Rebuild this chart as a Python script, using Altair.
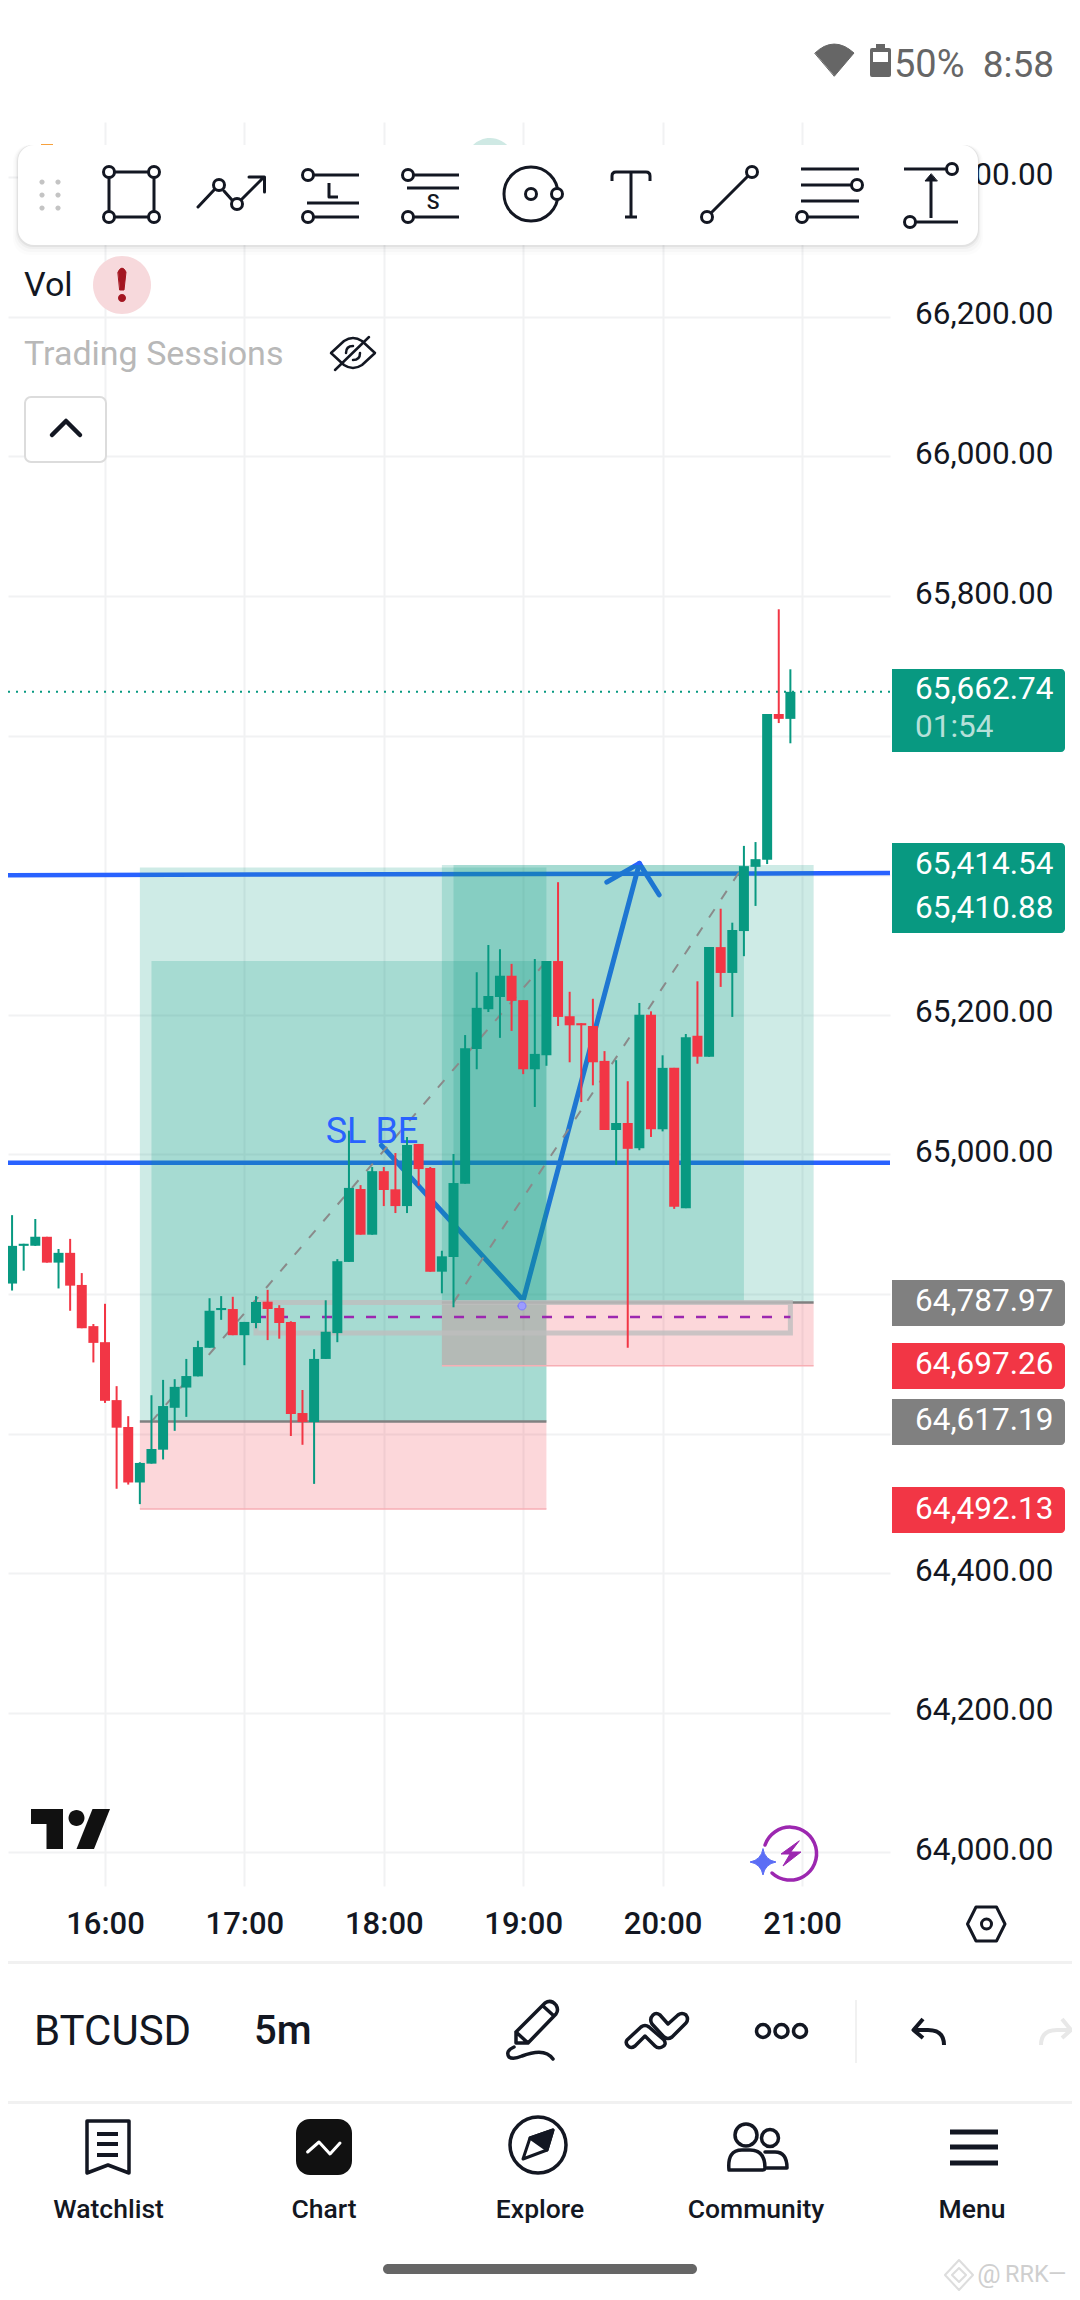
import altair as alt
import pandas as pd

# ---------- chart data ----------
candle_open = [64816, 64815, 64869, 64869, 64882, 64845, 64859, 64813, 64754, 64731,
               64648, 64609.5, 64530, 64557, 64577, 64637, 64666, 64682, 64723, 64777,
               64778.5, 64741, 64758.5, 64789, 64780, 64760, 64629.5, 64616.6, 64707, 64744,
               64846, 64950.5, 64885, 64976, 64950, 64926, 65015, 64980.5, 64832, 64853,
               64958, 65151, 65208, 65225.5, 65256, 65221, 65122, 65142, 65277, 65198,
               65188, 65184, 65134, 65035, 65045, 65009, 65200, 65036, 65124, 64923,
               65170, 65140, 65297, 65260, 65320, 65412, 65422, 65631, 65624]
candle_close = [64814, 64869, 64872, 64882, 64845, 64859, 64812, 64751, 64730, 64647,
                64608.5, 64530, 64558, 64578, 64639.5, 64667, 64682.5, 64724, 64776, 64780,
                64741, 64760, 64788.6, 64778.5, 64758.5, 64628, 64616.6, 64707, 64746, 64847,
                64952, 64885, 64976, 64949, 64926, 65013.5, 64979, 64832, 64854, 64959,
                65152, 65210, 65227, 65256, 65220, 65122, 65144, 65277, 65197, 65185,
                65185, 65132, 65035, 65045, 65008, 65200, 65036, 65124, 64925, 65168,
                65140, 65297, 65260, 65321.5, 65413, 65423, 65631, 65624, 65662.74]
candle_high = [64892, 64913, 64872, 64907.5, 64882, 64864.5, 64879, 64830, 64757, 64786,
               64668, 64625, 64559, 64655, 64677, 64678, 64707, 64733, 64794, 64797,
               64796, 64760, 64797, 64806, 64784, 64761, 64662.5, 64721, 64791, 64850,
               65034, 64956, 64982, 64982, 65002, 65025, 65015, 64982, 64862, 65000.6,
               65171, 65261, 65300, 65294, 65273, 65221, 65280, 65277, 65390, 65233,
               65188, 65223, 65148, 65135, 65105, 65217, 65205, 65142, 65124, 65172.5,
               65248, 65297, 65352, 65332, 65442, 65447.5, 65631, 65781, 65695]
candle_low = [64796, 64805, 64833.5, 64869, 64845, 64808, 64776, 64751, 64702, 64644,
              64521, 64527, 64499, 64557, 64563, 64604, 64624, 64682, 64723, 64763,
              64741, 64698, 64751, 64734, 64736, 64596.6, 64584, 64528, 64707, 64731,
              64846, 64885, 64885, 64926, 64916, 64916, 64955, 64832, 64801, 64781,
              64958, 65122, 65204, 65167, 65177, 65115, 65068, 65127, 65184, 65132,
              65075, 65099, 65035, 64985, 64723, 65006, 65025, 65033, 64922, 64923,
              65130, 65140, 65240, 65197, 65284, 65356, 65416, 65618, 65589]
first_minute = 915   # minutes after midnight of the first visible 5m candle

hour_ticks = [960, 1020, 1080, 1140, 1200, 1260]
price_ticks = [64000, 64200, 64400, 64600, 64800, 65000, 65200, 65400, 65600, 65800, 66000, 66200, 66400]

# long-position tools: start, end, low price, high price
green_t0 = [975, 980, 1105, 1110]
green_t1 = [1150, 1150, 1265, 1235]
green_p0 = [64617.19, 64617.19, 64787.97, 64787.97]
green_p1 = [65410.88, 65277, 65414.54, 65414.54]
red_t0 = [975, 1105]
red_t1 = [1150, 1265]
red_p0 = [64492.13, 64697.26]
red_p1 = [64617.19, 64787.97]

level_t = [915, 1297.88]
upper_level = [65400, 65403]
lower_level = [64988, 64988]
zigzag_t = [1079, 1140, 1190]
zigzag_p = [65013, 64791, 65417]
head_t = [1176, 1190, 1198.5]
head_p = [65390, 65417, 65372]
diag1_t = [980, 1150]
diag1_p = [64617.19, 65277]
diag2_t = [1110, 1235]
diag2_p = [64787.97, 65414.54]
box_t = [1025, 1255]
box_p = [64744, 64788]
mid_price = 64767
last_price = 65662.74

# price tags: box top, box bottom (page pixels), colour
tag_top = [669, 843, 1280, 1343, 1399, 1487]
tag_bottom = [752, 933, 1326, 1389, 1445, 1533]
tag_colour = ["#089981", "#089981", "#808080", "#F23645", "#808080", "#F23645"]
tag_text = ["65,662.74", "01:54", "65,414.54", "65,410.88", "64,787.97", "64,697.26", "64,617.19", "64,492.13"]
tag_text_y = [690, 727.5, 864.5, 908.5, 1302, 1365, 1421, 1510]

GREEN, RED, BLUE, INK = "#089981", "#F23645", "#2962ff", "#131722"
ONE = pd.DataFrame({"a": [0]})
FONT = "Roboto"

T_DOMAIN = [918.25, 1297.88]
P_DOMAIN = [63951.9, 66479.1]
X_S = alt.Scale(domain=T_DOMAIN, zero=False, nice=False, padding=0)
Y_S = alt.Scale(domain=P_DOMAIN, zero=False, nice=False, padding=0)

AX_X = alt.Axis(values=hour_ticks, labelExpr="floor(datum.value/60)+':00'", grid=True, gridColor="#f1f2f3",
                gridWidth=2, domain=False, ticks=False, tickSize=0, labelFont=FONT, labelFontSize=31,
                labelFontWeight=500, labelColor=INK, labelPadding=38, labelBaseline="middle",
                labelOverlap=False, labelFlush=False, labelBound=False, title=None)
AX_Y = alt.Axis(orient="right", values=price_ticks, format=",.2f", grid=True, gridColor="#f1f2f3",
                labelExpr="datum.value==65600||datum.value==65400||datum.value==64800||datum.value==64600?'':datum.label",
                gridWidth=2, domain=False, ticks=False, tickSize=0, labelFont=FONT, labelFontSize=31.5,
                labelColor=INK, labelAlign="right", labelBaseline="middle", labelPadding=163, labelOffset=-2,
                labelOverlap=False, labelFlush=False, labelBound=False, title=None)


def X(f):
    return alt.X(f, type="quantitative", scale=X_S, axis=AX_X)


def Y(f):
    return alt.Y(f, type="quantitative", scale=Y_S, axis=AX_Y)


def series(t, p):
    return pd.DataFrame({"t": t, "p": p})


def path(d, stroke=INK, fill="transparent", sw=3.0, opacity=1.0, cap="round"):
    kw = dict(shape=d, size=4, filled=True, fill=fill, stroke=stroke, strokeWidth=sw,
              opacity=opacity, strokeCap=cap, strokeJoin="round")
    return alt.Chart(ONE).mark_point(**kw).encode(x=alt.value(-8), y=alt.value(-122))


def circ(cx, cy, r):
    return f"M{cx-r} {cy}A{r} {r} 0 1 0 {cx+r} {cy}A{r} {r} 0 1 0 {cx-r} {cy}Z"


def text(s, x, y, size, color=INK, align="left", weight=400):
    return alt.Chart(ONE).mark_text(text=s, font=FONT, fontSize=size, color=color, align=align,
                                    baseline="middle", fontWeight=weight).encode(
        x=alt.value(x - 8), y=alt.value(y - 122))


def box(x0, x1, y0, y1, fill="white", radius=0, stroke=None, sw=0, opacity=1.0, **corner):
    kw = dict(fill=fill, opacity=opacity)
    if radius:
        kw["cornerRadius"] = radius
    if stroke:
        kw["stroke"] = stroke
        kw["strokeWidth"] = sw
    kw.update(corner)
    return alt.Chart(ONE).mark_rect(**kw).encode(
        x=alt.value(x0 - 8), x2=alt.value(x1 - 8), y=alt.value(y0 - 122), y2=alt.value(y1 - 122))


# ---------- tables ----------
candles = pd.DataFrame({"t": [first_minute + 5 * i for i in range(len(candle_open))],
                        "open": candle_open, "close": candle_close,
                        "high": candle_high, "low": candle_low})
candles["dir"] = ["up" if c >= o else "down" for o, c in zip(candle_open, candle_close)]
dir_color = alt.Color("dir:N", scale=alt.Scale(domain=["up", "down"], range=[GREEN, RED]), legend=None)
green_df = pd.DataFrame({"t0": green_t0, "t1": green_t1, "p0": green_p0, "p1": green_p1})
red_df = pd.DataFrame({"t0": red_t0, "t1": red_t1, "p0": red_p0, "p1": red_p1})

layers = []

# blue levels and hand-drawn zigzag sit under the position tools
for p in (upper_level, lower_level):
    layers.append(alt.Chart(series(level_t, p)).mark_line(color=BLUE, strokeWidth=4.5, clip=False)
                  .encode(x=X("t"), y=Y("p")))
layers.append(alt.Chart(pd.DataFrame({"t": zigzag_t, "p": zigzag_p, "o": [0, 1, 2]}))
              .mark_line(color=BLUE, strokeWidth=5, strokeCap="round", strokeJoin="round")
              .encode(x=X("t"), y=Y("p"), order="o:Q"))
layers.append(alt.Chart(pd.DataFrame({"t": head_t, "p": head_p, "o": [0, 1, 2]}))
              .mark_line(color=BLUE, strokeWidth=5, strokeCap="round", strokeJoin="round")
              .encode(x=X("t"), y=Y("p"), order="o:Q"))

# position tools
layers.append(alt.Chart(green_df).mark_rect(color=GREEN, opacity=0.2).encode(
    x=X("t0"), x2="t1", y=Y("p0"), y2="p1"))
layers.append(alt.Chart(red_df).mark_rect(color=RED, opacity=0.2).encode(
    x=X("t0"), x2="t1", y=Y("p0"), y2="p1"))
layers.append(alt.Chart(red_df).mark_rule(color="#808080", strokeWidth=2.5).encode(
    x=X("t0"), x2="t1", y=Y("p1")))
layers.append(alt.Chart(red_df).mark_rule(color="#f7aeb4", strokeWidth=1.5).encode(
    x=X("t0"), x2="t1", y=Y("p0")))

# grey box and purple mid line
layers.append(alt.Chart(pd.DataFrame({"t0": [box_t[0]], "t1": [box_t[1]], "p0": [box_p[0]], "p1": [box_p[1]]}))
              .mark_rect(fillOpacity=0, stroke="#bebebe", strokeOpacity=0.8, strokeWidth=5)
              .encode(x=X("t0"), x2="t1", y=Y("p0"), y2="p1"))
layers.append(alt.Chart(pd.DataFrame({"t0": [box_t[0]], "t1": [box_t[1]], "p": [mid_price]}))
              .mark_rule(color="#9c27b0", strokeWidth=2.5, strokeDash=[10, 12])
              .encode(x=X("t0"), x2="t1", y=Y("p")))

# dashed diagonals of the position tools
for t, p in ((diag1_t, diag1_p), (diag2_t, diag2_p)):
    layers.append(alt.Chart(series(t, p)).mark_line(color="#8a8a8a", strokeWidth=2, strokeDash=[10, 12])
                  .encode(x=X("t"), y=Y("p")))

# last price dotted line
layers.append(alt.Chart(series(T_DOMAIN, [last_price, last_price]))
              .mark_line(color=GREEN, strokeWidth=2, strokeDash=[2, 6]).encode(x=X("t"), y=Y("p")))

# drawing text
layers.append(alt.Chart(pd.DataFrame({"t": [1055], "p": [65032], "s": ["SL BE"]}))
              .mark_text(font=FONT, fontSize=36, color=BLUE, align="left", baseline="middle")
              .encode(x=X("t"), y=Y("p"), text="s:N"))
layers.append(path(circ(522, 1306, 4), stroke="#7b7bff", fill="#9c9cff", sw=1))

# candles
layers.append(alt.Chart(candles).mark_bar(size=2).encode(x=X("t"), y=Y("low"), y2="high", color=dir_color))
layers.append(alt.Chart(candles).mark_bar(size=10).encode(x=X("t"), y=Y("open"), y2="close", color=dir_color))

# price tags on the scale
for top, bot, col in zip(tag_top, tag_bottom, tag_colour):
    layers.append(box(892, 1065, top, bot, fill=col, cornerRadiusTopRight=4, cornerRadiusBottomRight=4))
for s, y in zip(tag_text, tag_text_y):
    layers.append(text(s, 915, y, 31.5, color="#b5e0d9" if s == "01:54" else "#ffffff"))

# ---------- app chrome ----------
layers.append(path(circ(490, 162, 24), stroke="transparent", fill="#cfe9e4", sw=0))
layers.append(box(41, 53, 144, 147, fill="#f7a13c"))
# toolbar with a soft shadow
for off, op in ((10, 0.012), (7, 0.018), (4, 0.03), (2, 0.05)):
    layers.append(box(18 - off / 2, 978 + off / 2, 145, 245 + off, fill="#000000", radius=16, opacity=op))
layers.append(box(18, 978, 145, 245, fill="#ffffff", radius=16))
for gx in (42, 58):
    for gy in (182, 195, 208):
        layers.append(path(circ(gx, gy, 2.6), stroke="transparent", fill="#c4c4c4", sw=0))


def h(cx, cy, r=5.5):
    return path(circ(cx, cy, r), fill="#ffffff", sw=3)


layers.append(path("M109 172H154V217H109Z"))
for c in ((109, 172), (154, 172), (109, 217), (154, 217)):
    layers.append(h(*c))
layers.append(path("M198 207L214 190M224 191L232 200M242 199L264 177M249 177H264.5V192"))
layers.append(h(219, 185))
layers.append(h(237, 204))
layers.append(path("M314 175H359M307 203H359M314 217H359M329 183V197H338", cap="butt"))
layers.append(h(308, 175))
layers.append(h(308, 217))
layers.append(path("M414 175H459M407 188H459M414 217H459", cap="butt"))
layers.append(h(408, 175))
layers.append(h(408, 217))
layers.append(text("S", 433, 203, 21, align="center", weight=500))
layers.append(path(circ(531, 194, 27)))
layers.append(h(531, 194))
layers.append(h(557, 194))
layers.append(path("M612 181V176Q612 172 616 172H646Q650 172 650 176V181M631 172V217M625 217H637", cap="butt"))
layers.append(path("M707 217L752 172"))
layers.append(h(752, 172))
layers.append(h(707, 217))
layers.append(path("M801 169H859M801 185H853M801 201H859M808 217H859", cap="butt"))
layers.append(h(857, 185))
layers.append(h(802, 217))
layers.append(path("M904 169H947M916 222H958M931 218V180", cap="butt"))
layers.append(path("M931 174L925 181H937Z", fill=INK, sw=1))
layers.append(h(952, 169))
layers.append(h(910, 222))

# legend rows
layers.append(text("Vol", 24, 285.5, 34))
layers.append(path(circ(122, 285, 29), stroke="transparent", fill="#f7d9dc", sw=0))
layers.append(path("M118 272Q122 264 126 272L124 290H120Z", stroke="#a31621", fill="#a31621", sw=1))
layers.append(path(circ(122, 298, 4), stroke="transparent", fill="#a31621", sw=0))
layers.append(text("Trading Sessions", 24, 355, 34, color="#b8b8b8"))
layers.append(path("M331 353L344 341Q353 335 362 341L375 353L362 365Q353 371 344 365Z", sw=2.5))
layers.append(path("M335 370L369 337M346 353Q346 346 353 346M360 353Q360 360 353 360", sw=2.5))
layers.append(box(25, 106, 397, 462, fill="#ffffff", radius=6, stroke="#dcdcdc", sw=2))
layers.append(path("M52 435L66 421L80 435", sw=4.5))

# status bar
layers.append(path("M815 53Q834 35 854 53L834.5 76Z", stroke="#666666", fill="#666666", sw=1))
layers.append(path("M870 50Q870 48 872 48H876V44H885V48H889Q891 48 891 50V75Q891 77 889 77H872Q870 77 870 75Z",
                   stroke="transparent", fill="#666666", sw=0))
layers.append(box(873, 888, 52, 62, fill="#ffffff"))
layers.append(text("50%", 894, 66, 38, color="#666666"))
layers.append(text("8:58", 1054, 66, 37, color="#666666", align="right"))

# TradingView logo and badge
layers.append(path("M31 1809H63V1849H46.5V1824H31Z", stroke="transparent", fill="#111111", sw=0))
layers.append(path(circ(76.5, 1818, 8), stroke="transparent", fill="#111111", sw=0))
layers.append(path("M110 1809L94 1849H76.5L92.5 1809Z", stroke="transparent", fill="#111111", sw=0))
layers.append(path("M765 1845A26.5 26.5 0 1 1 772 1873", stroke="#9c27b0", sw=3.5))
layers.append(path("M799 1841L781 1854H790L783 1866L801 1852H791Z", stroke="#9c27b0", fill="#9c27b0", sw=1))
layers.append(path("M763 1849Q765 1860 776 1862Q765 1864 763 1875Q761 1864 750 1862Q761 1860 763 1849Z",
                   stroke="#5b6df5", fill="#5b6df5", sw=1))
layers.append(path("M967.5 1924L976 1907H996.5L1005 1924L996.5 1941H976Z", sw=3))
layers.append(path(circ(986.5, 1924, 5), sw=3))

# separators
layers.append(box(8, 1072, 1961, 1964, fill="#f1f1f1"))
layers.append(box(8, 1072, 2101, 2104, fill="#f1f1f1"))
layers.append(box(855, 857, 2000, 2063, fill="#f1f1f1"))

# symbol row
layers.append(text("BTCUSD", 34, 2032, 42))
layers.append(text("5m", 254, 2032, 40, weight=500))
layers.append(path("M516 2032L545 2003Q551 1999 556 2005Q559 2010 556 2014L528 2043H516ZM543 2006L554 2016M516 2032L528 2043", sw=3.5))
layers.append(path("M514 2047Q505 2051 509 2057Q513 2060 522 2056Q545 2047 553 2059", sw=3.5))
layers.append(path("M627 2040L641 2027Q645 2024 649 2027L664 2040Q667 2045 662 2047Q658 2049 655 2046L645 2036L635 2046Q631 2049 628 2046Q625 2043 627 2040Z", sw=3.5))
layers.append(path("M653 2015Q656 2012 660 2015L668 2024L678 2015Q682 2012 686 2015Q689 2019 686 2023L672 2037Q668 2040 664 2037L652 2024Q649 2019 653 2015Z", sw=3.5))
for cx in (763, 781.5, 800):
    layers.append(path(circ(cx, 2031, 6.5), sw=3.5))
layers.append(path("M923 2019L913.5 2030L923 2038M914 2030H928Q944 2030 944 2045", sw=4, cap="butt"))
layers.append(path("M1062 2019L1071 2030L1062 2038M1071 2030H1057Q1041 2030 1041 2045", stroke="#e8e8e8", sw=4, cap="butt"))

# nav
layers.append(path("M87 2121H129V2173L108 2165L87 2173Z", sw=3.5, cap="butt"))
layers.append(path("M97 2134H118M97 2144H118M97 2155H118", sw=4, cap="butt"))
layers.append(box(296, 352, 2119, 2175, fill="#111111", radius=14))
layers.append(path("M307.6 2152L319 2142L330 2154L340 2143", stroke="#ffffff", sw=3))
layers.append(path(circ(538, 2145, 28), sw=3.5))
layers.append(path("M553 2130L547 2150L523 2159L530 2138Z", sw=3))
layers.append(path("M553 2130L547 2150L530 2138Z", fill=INK, sw=3))
layers.append(path(circ(746, 2135, 11), sw=3.5))
layers.append(path(circ(770, 2138, 8.5), sw=3.5))
layers.append(path("M729 2170Q727 2150 742 2150H750Q765 2150 765 2168Q765 2170 762 2170Z", sw=3.5))
layers.append(path("M765 2152H775Q787 2152 787 2168H767", sw=3.5))
layers.append(path("M950 2132H998M950 2147H998M950 2163H998", sw=5, cap="butt"))
for s, x in (("Watchlist", 108.6), ("Chart", 324), ("Explore", 540), ("Community", 756), ("Menu", 972)):
    layers.append(text(s, x, 2209.5, 26.5, align="center", weight=500))
layers.append(box(383, 697, 2264, 2274, fill="#666666", radius=5))
# watermark
layers.append(path("M959 2260L973 2275L959 2290L945 2275ZM959 2268L966 2275L959 2282L952 2275Z", stroke="#dddddd", sw=2))
layers.append(text("@", 989, 2275, 26, color="#cfcfcf", align="center"))
layers.append(text("RRK—", 1005, 2275, 23.5, color="#cfcfcf"))

chart = alt.layer(*layers).properties(
    width=882, height=1764,
    padding={"left": 0, "top": 114, "right": 182, "bottom": 406},
    autosize=alt.AutoSizeParams(type="none"),
    background="#ffffff",
).configure_view(stroke=None)

chart.save("out.html", embed_options={"renderer": "svg", "actions": False})
